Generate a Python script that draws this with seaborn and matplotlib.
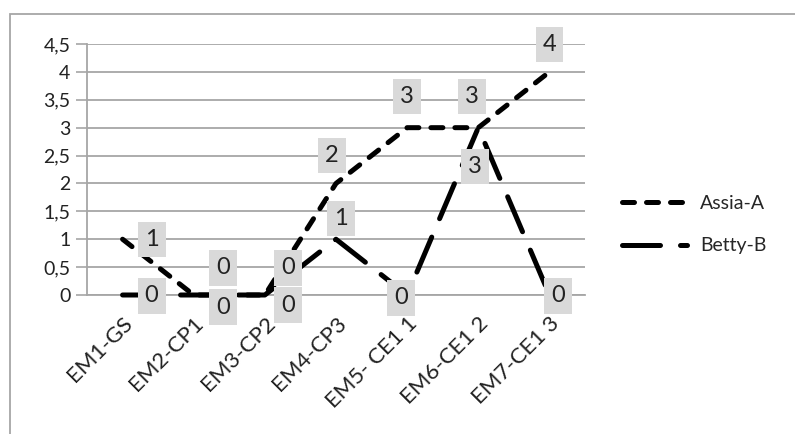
import matplotlib
matplotlib.use('Agg')
import matplotlib.pyplot as plt
import seaborn as sns
import pandas as pd
from matplotlib.patches import Rectangle

# Data
sessions = ['EM1-GS', 'EM2-CP1', 'EM3-CP2', 'EM4-CP3', 'EM5- CE1 1', 'EM6-CE1 2', 'EM7-CE1 3']
assia = [1, 0, 0, 2, 3, 3, 4]
betty = [0, 0, 0, 1, 0, 3, 0]

# label offsets in pixels (dx, dy up)
assia_off = [(29, 0), (29, 27), (23, 27), (-4, 28), (0, 31), (-6, 31), (0, 27)]
betty_off = [(29, -1), (29, -12), (23, -10), (5, 21), (-6, -3), (-3, -39), (9, -1)]

df = pd.DataFrame({'Session': sessions * 2,
                   'Score': assia + betty,
                   'Eleve': ['Assia-A'] * 7 + ['Betty-B'] * 7})

sns.set_style('white')
plt.rcParams['font.family'] = ['Lato', 'DejaVu Sans']

fig = plt.figure(figsize=(7.95, 4.34), dpi=100)
ax = fig.add_axes([87 / 795, 1 - 295 / 434, 498 / 795, 251 / 434])

sns.lineplot(data=df, x='Session', y='Score', hue='Eleve', style='Eleve',
             palette=['black', 'black'], sort=False, linewidth=3.6,
             dashes=[(2.4, 2.4), (7.6, 4.0)], ax=ax, legend=True)
for k, ln in enumerate(ax.lines):
    ln.set_dash_capstyle('round')
    ln.set_solid_capstyle('round')
    ln.set_clip_on(False)
    ln.set_zorder(3 + k)

ax.set_xlim(-0.5, 6.5)
ax.set_ylim(0, 4.5)
ax.set_yticks([i * 0.5 for i in range(10)])
ax.set_yticklabels(['0', '0,5', '1', '1,5', '2', '2,5', '3', '3,5', '4', '4,5'])
ax.set_xticks(range(7))
ax.set_xticklabels(sessions, rotation=45, ha='right', rotation_mode='anchor')
ax.set_xticks([i - 0.5 for i in range(8)], minor=True)
ax.tick_params(axis='x', which='major', length=0, pad=13, labelsize=16, colors='#222222')
ax.tick_params(axis='x', which='minor', length=6, width=1.2, color='#a6a6a6', direction='out')
ax.tick_params(axis='y', length=8, width=1.2, labelsize=14, pad=4, left=True,
               colors='#a6a6a6', labelcolor='#222222')
ax.grid(axis='y', color='#a6a6a6', linewidth=1.3)
ax.grid(axis='x', visible=False)
ax.set_axisbelow(True)
for s in ['top', 'right']:
    ax.spines[s].set_visible(False)
for s in ['left', 'bottom']:
    ax.spines[s].set_color('#a6a6a6')
    ax.spines[s].set_linewidth(1.3)
ax.set_xlabel('')
ax.set_ylabel('')

# data labels with grey boxes
box = dict(boxstyle='square,pad=0.3', fc='#d9d9d9', ec='none')
for vals, offs in [(assia, assia_off), (betty, betty_off)]:
    for i, (v, o) in enumerate(zip(vals, offs)):
        ax.annotate(str(v), (i, v), xytext=(o[0] * 0.72, o[1] * 0.72),
                    textcoords='offset points', ha='center', va='center',
                    fontsize=17, color='#222222', bbox=box, zorder=10)

leg = ax.legend(loc='center left', bbox_to_anchor=(1.04, 0.28), frameon=False,
                fontsize=14, handlelength=3.3, labelspacing=1.3, handletextpad=0.7)

# outer chart border
fig.patches.append(Rectangle((10 / 795, -0.1), 800 / 795, (434 - 14) / 434 + 0.1,
                             transform=fig.transFigure, fill=False,
                             ec='#a6a6a6', lw=1.3))

fig.savefig('out.png', dpi=100)
